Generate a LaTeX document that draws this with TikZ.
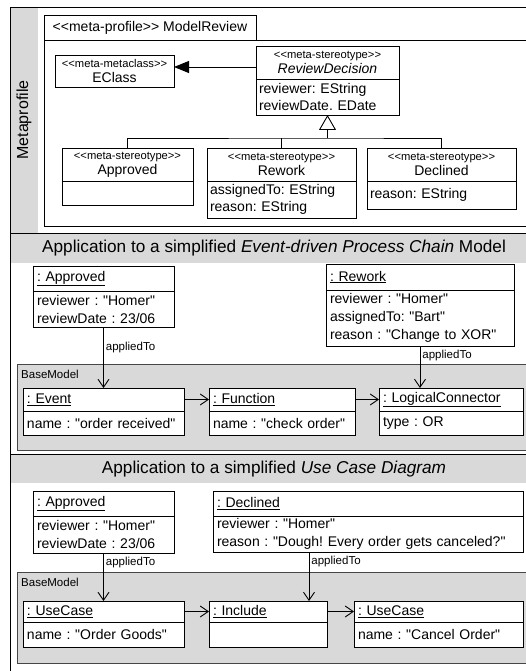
\documentclass[tikz,border=0pt]{standalone}
\usepackage{fontspec}
\newfontfamily\umlfont{Liberation Sans}
\usetikzlibrary{arrows.meta}

\definecolor{cinza}{RGB}{217,217,217}
\definecolor{borda}{RGB}{70,70,70}
\newcommand{\abre}{<\kern0pt<}
\newcommand{\fecha}{>\kern0pt>}

\tikzset{
  caixa/.style={draw, fill=white, anchor=north west, inner xsep=4pt, inner ysep=0pt,
    outer sep=0pt, line width=0.9pt, font=\umlfont\frenchspacing\fontsize{14}{18}\selectfont},
  classe/.style={caixa, align=center, font=\umlfont\frenchspacing\fontsize{14}{15}\selectfont},
  atrib/.style={caixa, align=left},
  atribm/.style={caixa, align=left, inner xsep=3pt, font=\umlfont\frenchspacing\fontsize{14}{17}\selectfont},
  rotulo/.style={anchor=west, inner sep=2pt, font=\umlfont\fontsize{11.5}{13}\selectfont},
  titulo/.style={font=\umlfont\fontsize{17.2}{19}\selectfont},
  seta/.style={line width=0.9pt, -{Straight Barb[length=8pt,width=11pt]}},
  linha/.style={line width=0.9pt},
}

\newcommand{\estereo}[1]{{\fontsize{11.2}{13}\selectfont\abre #1\fecha}}

\begin{document}
\frenchspacing
\begin{tikzpicture}[x=1pt, y=-1pt]
\useasboundingbox (0,0) rectangle (526,671);
\clip (0,0) rectangle (526,671);

% FUNDOS
\fill[cinza] (10,7) rectangle (38,233);
\fill[cinza] (10,233) rectangle (545,263);
\fill[cinza] (10,454) rectangle (545,483);

% MOLDURA EXTERNA
\draw[linha] (10,7) rectangle (545,680);
\draw[linha] (10,233) -- (545,233);
\draw[linha] (10,454) -- (545,454);

\node[rotate=90, font=\umlfont\fontsize{16}{18}\selectfont] (metaprofile) at (24,120) {Metaprofile};

% PACOTE ModelReview
\draw[linha] (44,40) rectangle (545,226);
\node[caixa, minimum width=212pt, minimum height=25pt, inner xsep=0pt] (pacote) at (44,15)
{\abre meta-profile\fecha{} ModelReview};

% CLASSES
\node[classe, minimum width=119pt, minimum height=32pt] (eclass) at (55,55)
{\estereo{meta-metaclass}\\EClass};

\node[classe, minimum width=143pt, minimum height=33pt] (rd) at (256,46)
{\estereo{meta-stereotype}\\\textit{ReviewDecision}};
\node[atribm, text width=137pt, minimum height=36pt] (rd-a) at (rd.south west)
{reviewer: EString\\reviewDate. EDate};

\node[classe, minimum width=131pt, minimum height=33pt] (aprovM) at (62,148)
{\estereo{meta-stereotype}\\Approved};
\node[atribm, text width=125pt, minimum height=24pt] (aprovM-a) at (aprovM.south west) {};

\node[classe, minimum width=149pt, minimum height=33pt] (rewM) at (207,148)
{\estereo{meta-stereotype}\\Rework};
\node[atribm, text width=143pt, minimum height=37pt] (rewM-a) at (rewM.south west)
{assignedTo: EString\\reason: EString};

\node[classe, minimum width=149pt, minimum height=33pt] (decM) at (367,148)
{\estereo{meta-stereotype}\\Declined};
\node[atribm, text width=143pt, minimum height=28pt] (decM-a) at (decM.south west)
{reason: EString};

% HERANCA E ASSOCIACAO
\coordinate (juncao) at (rd-a.south |- 0,138);
\draw[linha, -{Triangle[open, length=15pt, width=17pt]}] (juncao) -- (rd-a.south);
\draw[linha] (aprovM.north) |- (juncao) -| (decM.north);
\draw[linha] (rewM.north) -- (rewM.north |- juncao);

\coordinate (ponta) at ([yshift=4pt]eclass.east);
\draw[linha, -{Triangle[length=15pt, width=12pt]}] (rd.west |- ponta) -- (ponta);

% SECAO EPC
\node[titulo] (titulo1) at (274,248)
{Application to a simplified \textit{Event-driven Process Chain} Model};

\node[atrib, text width=133pt, minimum height=25pt] (aprov1) at (33,266)
{\underline{: Approved}};
\node[atrib, text width=133pt, minimum height=36pt] (aprov1-a) at (aprov1.south west)
{reviewer : "Homer"\\reviewDate : 23/06};

\node[atrib, text width=180pt, minimum height=26pt] (rew1) at (326,264)
{\underline{: Rework}};
\node[atrib, text width=180pt, minimum height=56pt] (rew1-a) at (rew1.south west)
{reviewer : "Homer"\\assignedTo: "Bart"\\reason : "Change to XOR"};

\filldraw[fill=cinza, draw=borda, line width=0.9pt] (17,364) rectangle (545,450);
\node[rotulo] (base1) at (19,374) {BaseModel};

\node[atrib, text width=153pt, minimum height=23pt] (evento) at (23,388)
{\underline{: Event}};
\node[atrib, text width=153pt, minimum height=24pt] (evento-a) at (evento.south west)
{name : "order received"};

\node[atrib, text width=138pt, minimum height=23pt] (funcao) at (209,388)
{\underline{: Function}};
\node[atrib, text width=138pt, minimum height=24pt] (funcao-a) at (funcao.south west)
{name : "check order"};

\node[atrib, text width=136pt, minimum height=23pt] (conector) at (379,388)
{\underline{: LogicalConnector}};
\node[atrib, text width=136pt, minimum height=24pt] (conector-a) at (conector.south west)
{type : OR};

% SETAS EPC
\draw[seta] (aprov1-a.south) -- node[rotulo, pos=0.33] (ap1) {appliedTo} (evento.north);
\draw[seta] (rew1-a.south) -- node[rotulo, pos=0.22] (ap2) {appliedTo} (rew1-a.south |- conector.north);
\draw[seta] (evento.east) -- (funcao.west);
\draw[seta] (funcao.east) -- (conector.west);

% SECAO USE CASE
\node[titulo] (titulo2) at (274,469)
{Application to a simplified \textit{Use Case Diagram}};

\node[atrib, text width=133pt, minimum height=25pt] (aprov2) at (33,491)
{\underline{: Approved}};
\node[atrib, text width=133pt, minimum height=37pt] (aprov2-a) at (aprov2.south west)
{reviewer : "Homer"\\reviewDate : 23/06};

\node[atrib, text width=302pt, minimum height=25pt] (decl2) at (213,491)
{\underline{: Declined}};
\node[atrib, text width=302pt, minimum height=36pt] (decl2-a) at (decl2.south west)
{reviewer : "Homer"\\reason : "Dough! Every order gets canceled?"};

\filldraw[fill=cinza, draw=borda, line width=0.9pt] (17,572) rectangle (545,663);
\node[rotulo] (base2) at (19,582) {BaseModel};

\node[atrib, text width=153pt, minimum height=21pt] (uc1) at (23,601)
{\underline{: UseCase}};
\node[atrib, text width=153pt, minimum height=25pt] (uc1-a) at (uc1.south west)
{name : "Order Goods"};

\node[atrib, text width=110pt, minimum height=21pt] (incl) at (209,601)
{\underline{: Include}};
\node[atrib, text width=110pt, minimum height=25pt] (incl-a) at (incl.south west) {};

\node[atrib, text width=161pt, minimum height=21pt] (uc2) at (354,601)
{\underline{: UseCase}};
\node[atrib, text width=161pt, minimum height=25pt] (uc2-a) at (uc2.south west)
{name : "Cancel Order"};

% SETAS USE CASE
\coordinate (saida) at ([xshift=96pt]decl2-a.south west);
\draw[seta] (aprov2-a.south) -- node[rotulo, pos=0.19] (ap3) {appliedTo} (uc1.north);
\draw[seta] (saida) -- node[rotulo, pos=0.19] (ap4) {appliedTo} (saida |- incl.north);
\draw[seta] (uc1.east) -- (incl.west);
\draw[seta] (incl.east) -- (uc2.west);

\end{tikzpicture}
\end{document}
